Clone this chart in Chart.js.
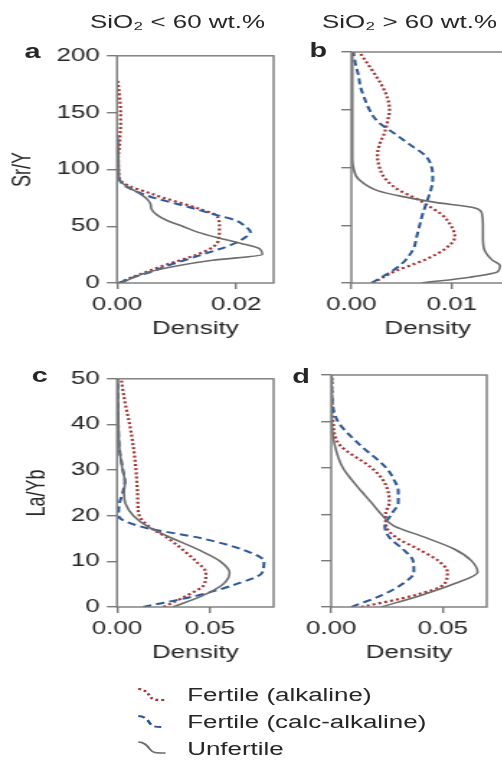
<!DOCTYPE html>
<html>
<head>
<meta charset="utf-8">
<script src="https://cdn.jsdelivr.net/npm/chart.js@4.4.1/dist/chart.umd.min.js"></script>
<style>
  html, body { margin: 0; padding: 0; background: #fff; overflow: hidden; width: 502px; height: 760px; }
  #fig { position: absolute; left: 0; top: 0; width: 349px; height: 760px;
         transform: scaleX(1.44); transform-origin: 0 0;
         font-family: "Liberation Sans", Arial, sans-serif; color: #262626; }
  #fig canvas { position: absolute; }
  .txt { position: absolute; font-size: 18px; line-height: 1; white-space: nowrap; }
  .letter { font-size: 20px; font-weight: bold; }
  .key { position: absolute; left: 95px; width: 21px; height: 16px; }
</style>
</head>
<body>
<div id="fig">
  <div class="txt" style="left:62.5px; top:13px;">SiO₂ &lt; 60 wt.%</div>
  <div class="txt" style="left:223.6px; top:13px;">SiO₂ &gt; 60 wt.%</div>
  <div class="txt letter" style="left:17px; top:41px;">a</div>
  <div class="txt letter" style="left:215px; top:40px;">b</div>
  <div class="txt letter" style="left:22px; top:365px;">c</div>
  <div class="txt letter" style="left:203px; top:366px;">d</div>

  <canvas id="panelA" width="193" height="300" style="left:0px; top:40px;"></canvas>
  <canvas id="panelB" width="133" height="300" style="left:220.4px; top:40px;"></canvas>
  <canvas id="panelC" width="193" height="301" style="left:0px; top:363px;"></canvas>
  <canvas id="panelD" width="135" height="301" style="left:206.3px; top:363px;"></canvas>

  <svg class="key" style="top:687px;" viewBox="0 0 21 16"><path d="M1,2 C5,2 7,5 9,9 C11,13 13,13 20,13" fill="none" stroke="#a83030" stroke-width="2.2" stroke-dasharray="2 2.2"/></svg>
  <div class="txt" style="left:130px; top:686px;">Fertile (alkaline)</div>
  <svg class="key" style="top:714px;" viewBox="0 0 21 16"><path d="M1,2 C5,2 7,5 9,9 C11,13 13,13 20,13" fill="none" stroke="#2c5898" stroke-width="2" stroke-dasharray="5 3"/></svg>
  <div class="txt" style="left:130px; top:713px;">Fertile (calc-alkaline)</div>
  <svg class="key" style="top:740px;" viewBox="0 0 21 16"><path d="M1,2 C5,2 7,5 9,9 C11,13 13,13 20,13" fill="none" stroke="#6c6c6c" stroke-width="1.6"/></svg>
  <div class="txt" style="left:130px; top:739.5px;">Unfertile</div>
</div>

<script>
// Sr/Y levels (panel a, SiO2 < 60 wt.%)
const srYLevelsA = [0, 5, 10, 15, 20, 25, 30, 35, 40, 45, 50, 55, 60, 65, 70, 75, 80, 85, 90, 95, 100, 110, 120, 130, 140, 150, 160, 170, 178];
const alkalineA  = [0.0003, 0.0025, 0.0050, 0.0076, 0.0106, 0.0134, 0.0156, 0.0168, 0.0171, 0.0172, 0.0172, 0.0171, 0.0165, 0.0140, 0.0110, 0.0078, 0.0050, 0.0022, 0.0006, 0.0003, 0.0002, 0.0002, 0.0004, 0.0005, 0.0006, 0.0006, 0.0005, 0.0003, 0.0001];
const calcAlkA   = [0.0004, 0.0027, 0.0059, 0.0083, 0.0113, 0.0143, 0.0173, 0.0198, 0.0215, 0.0224, 0.0215, 0.0200, 0.0166, 0.0133, 0.0098, 0.0062, 0.0035, 0.0015, 0.0005, 0.0002, 0.0002, 0.0002, 0.0001, 0.0001, null, null, null, null, null];
const unfertileA = [0.0008, 0.0028, 0.0055, 0.0100, 0.0160, 0.0244, 0.0240, 0.0207, 0.0168, 0.0134, 0.0110, 0.0084, 0.0067, 0.0058, 0.0056, 0.0048, 0.0034, 0.0017, 0.0005, 0.0003, 0.0003, 0.0002, 0.0002, 0.0001, null, null, null, null, null];

// Sr/Y levels (panel b, SiO2 > 60 wt.%)
const srYLevelsB = [0, 5, 10, 15, 20, 30, 40, 50, 60, 65, 70, 75, 80, 90, 100, 110, 120, 130, 140, 150, 160, 170, 180, 190, 200];
const alkalineB  = [0.0021, 0.0032, 0.0043, 0.0058, 0.0073, 0.0094, 0.0103, 0.0099, 0.0089, 0.0080, 0.0071, 0.0060, 0.0048, 0.0034, 0.0028, 0.0026, 0.0028, 0.0033, 0.0036, 0.0038, 0.0036, 0.0031, 0.0024, 0.0016, 0.0008];
const calcAlkB   = [0.0020, 0.0030, 0.0040, 0.0048, 0.0054, 0.0062, 0.0065, 0.0068, 0.0071, 0.0073, 0.0075, 0.0077, 0.0079, 0.0081, 0.0080, 0.0074, 0.0058, 0.0042, 0.0026, 0.0018, 0.0013, 0.0009, 0.0007, 0.0004, 0.0002];
const unfertileB = [0.0070, 0.0118, 0.0146, 0.0148, 0.0140, 0.0132, 0.0131, 0.0131, 0.0130, 0.0123, 0.0082, 0.0050, 0.0026, 0.0007, 0.0002, 0.0001, 0.0001, 0.0001, 0.0001, 0.0001, 0.0001, 0.0001, 0.0001, 0.0001, 0.0001];

// La/Yb levels (panels c and d)
const laYbLevels = [0, 2.5, 5, 7.5, 10, 12.5, 15, 17.5, 20, 22.5, 25, 27.5, 30, 35, 40, 45, 50];
const alkalineC  = [0.0250, 0.0375, 0.0470, 0.0478, 0.0425, 0.0355, 0.0276, 0.0177, 0.0120, 0.0112, 0.0110, 0.0106, 0.0102, 0.0088, 0.0068, 0.0042, 0.0022];
const calcAlkC   = [0.0140, 0.0430, 0.0640, 0.0780, 0.0790, 0.0680, 0.0460, 0.0140, 0.0008, 0.0012, 0.0030, 0.0042, 0.0032, 0.0012, 0.0006, 0.0004, 0.0003];
const unfertileC = [0.0300, 0.0460, 0.0570, 0.0605, 0.0555, 0.0440, 0.0300, 0.0170, 0.0088, 0.0047, 0.0038, 0.0043, 0.0030, 0.0012, 0.0008, 0.0006, 0.0005];
const alkalineD  = [0.0134, 0.0370, 0.0507, 0.0520, 0.0478, 0.0388, 0.0290, 0.0246, 0.0243, 0.0260, 0.0254, 0.0230, 0.0180, 0.0037, 0.0008, 0.0003, 0.0002];
const calcAlkD   = [0.0090, 0.0224, 0.0320, 0.0370, 0.0366, 0.0320, 0.0260, 0.0240, 0.0269, 0.0300, 0.0300, 0.0280, 0.0246, 0.0127, 0.0030, 0.0004, 0.0002];
const unfertileD = [0.0224, 0.0400, 0.0550, 0.0655, 0.0627, 0.0550, 0.0420, 0.0280, 0.0224, 0.0180, 0.0134, 0.0090, 0.0052, 0.0015, 0.0003, 0.0002, 0.0002];

const srYTicks = [0, 50, 100, 150, 200];
const laYbTicks = [0, 10, 20, 30, 40, 50];

const axisColor = '#7a7a7a';
const textColor = '#262626';
const redCol = '#a83030';
const blueCol = '#2c5898';
const greyCol = '#6c6c6c';

Chart.defaults.font.family = '"Liberation Sans", Arial, sans-serif';
Chart.defaults.font.size = 18;
Chart.defaults.color = textColor;

// box round the plot area
const frame = {
    id: 'frame',
    afterDraw(chart) {
        const { ctx, chartArea: a } = chart;
        ctx.save();
        ctx.strokeStyle = axisColor;
        ctx.lineWidth = 1.4;
        ctx.strokeRect(a.left, a.top, a.right - a.left, a.bottom - a.top);
        ctx.restore();
    }
};

function makePanel(id, levels, alk, calc, unf, o) {
    const toPts = vals => levels.map((y, i) => ({ x: vals[i], y })).filter(p => p.x !== null);

    new Chart(document.getElementById(id), {
        type: 'line',
        data: {
            datasets: [
                { label: 'Unfertile', data: toPts(unf), borderColor: greyCol, borderWidth: 1.6 },
                { label: 'Fertile (calc-alkaline)', data: toPts(calc), borderColor: blueCol, borderWidth: 2, borderDash: [6, 3.5] },
                { label: 'Fertile (alkaline)', data: toPts(alk), borderColor: redCol, borderWidth: 2.2, borderDash: [2, 2.2] }
            ]
        },
        options: {
            indexAxis: 'y',
            responsive: false,
            animation: false,
            events: [],
            layout: { padding: { top: 12, right: 3, left: 0, bottom: 0 } },
            elements: {
                point: { radius: 0 },
                line: { cubicInterpolationMode: 'monotone', fill: false }
            },
            plugins: { legend: { display: false }, tooltip: { enabled: false } },
            scales: {
                x: {
                    type: 'linear', min: 0, max: o.xMax,
                    afterBuildTicks: s => { s.ticks = o.xTicks.map(v => ({ value: v })); },
                    afterFit: s => { s.height = 57; },
                    grid: { drawOnChartArea: false, drawTicks: true, tickLength: 6, color: axisColor, lineWidth: 1.4 },
                    border: { display: false },
                    ticks: { padding: 5, autoSkip: false, maxRotation: 0, callback: v => v.toFixed(2) },
                    title: { display: true, text: 'Density', padding: { top: 0, bottom: 0 } }
                },
                y: {
                    type: 'linear', min: 0, max: o.yMax,
                    afterBuildTicks: s => { s.ticks = o.yTicks.map(v => ({ value: v })); },
                    afterFit: s => { s.width = o.yWidth; },
                    grid: { drawOnChartArea: false, drawTicks: true, tickLength: 7, color: axisColor, lineWidth: 1.4 },
                    border: { display: false },
                    ticks: { display: o.yLabels, padding: 5, autoSkip: false },
                    title: { display: !!o.yTitle, text: o.yTitle || '', padding: { top: o.yTitlePad || 0, bottom: 0 } }
                }
            }
        },
        plugins: [frame]
    });
}

makePanel('panelA', srYLevelsA, alkalineA, calcAlkA, unfertileA,
    { xMax: 0.0263, xTicks: [0, 0.02], yMax: 200, yTicks: srYTicks, yWidth: 81.25, yLabels: true, yTitle: 'Sr/Y', yTitlePad: 5.5 });
makePanel('panelB', srYLevelsB, alkalineB, calcAlkB, unfertileB,
    { xMax: 0.0152, xTicks: [0, 0.01], yMax: 200, yTicks: srYTicks, yWidth: 24, yLabels: false });
makePanel('panelC', laYbLevels, alkalineC, calcAlkC, unfertileC,
    { xMax: 0.0842, xTicks: [0, 0.05], yMax: 50, yTicks: laYbTicks, yWidth: 81.25, yLabels: true, yTitle: 'La/Yb', yTitlePad: 14.9 });
makePanel('panelD', laYbLevels, alkalineD, calcAlkD, unfertileD,
    { xMax: 0.0696, xTicks: [0, 0.05], yMax: 50, yTicks: laYbTicks, yWidth: 24, yLabels: false });
</script>
</body>
</html>
